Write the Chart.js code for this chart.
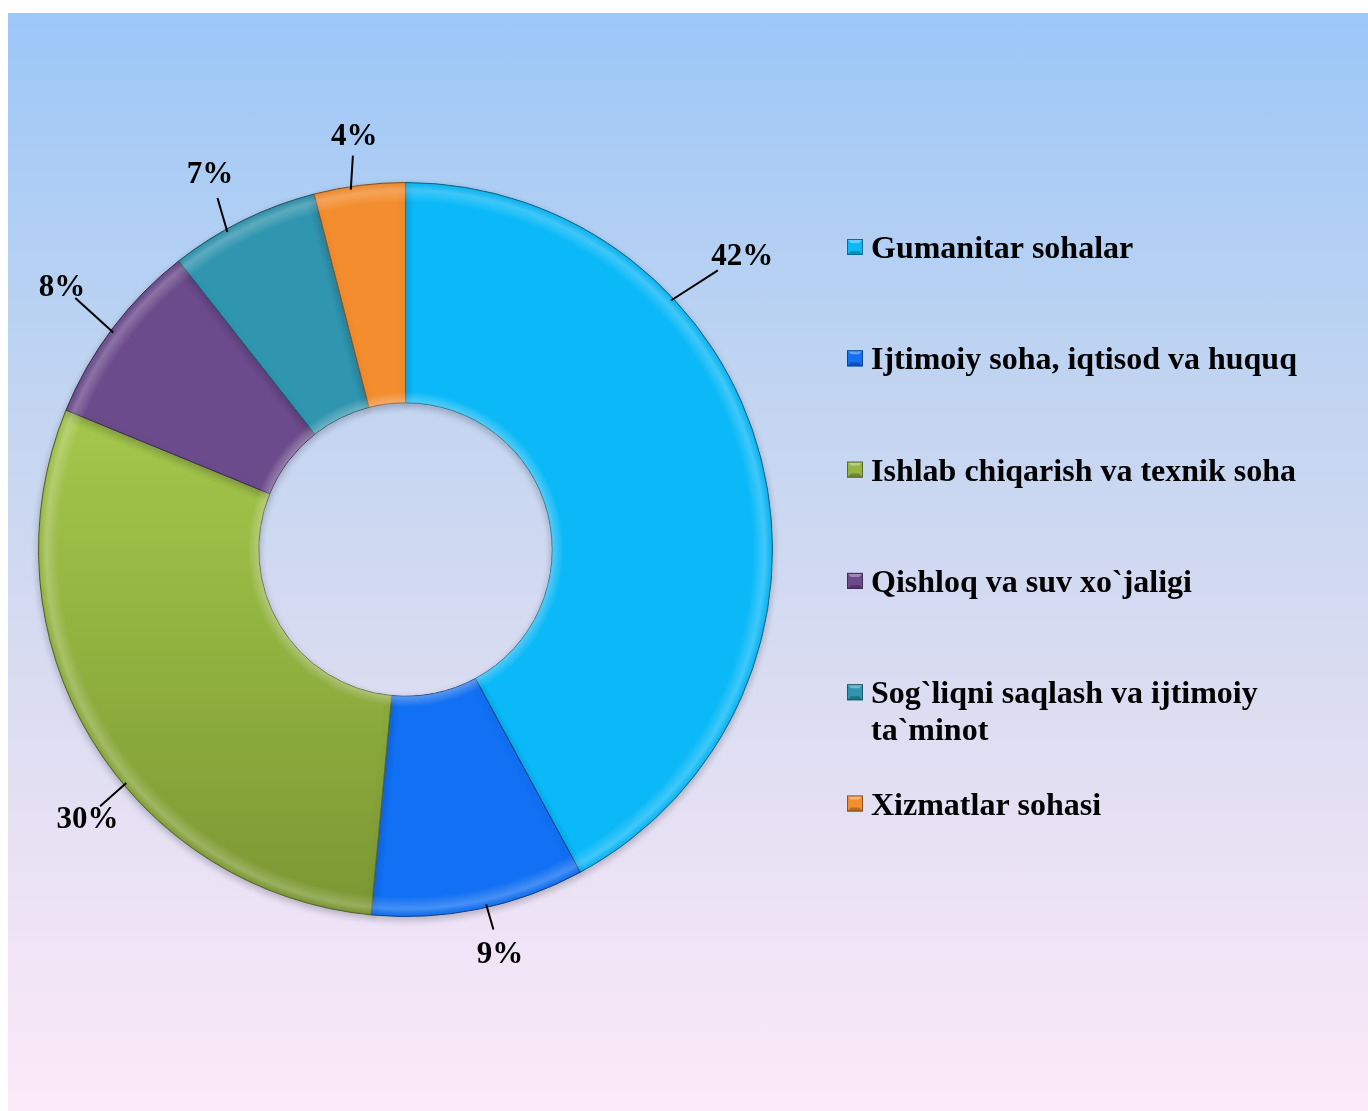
<!DOCTYPE html>
<html><head><meta charset="utf-8">
<script src="https://cdn.jsdelivr.net/npm/chart.js@4.4.1/dist/chart.umd.min.js"></script>
<style>
html,body{margin:0;padding:0;background:#fff;width:1368px;height:1111px;overflow:hidden}
#panel{position:absolute;left:8px;top:13px;width:1360px;height:1098px;background:linear-gradient(to bottom,#9cc7f7 0%,#c2d5f1 35%,#d9dcf1 60%,#f0e4f6 85%,#fce9f8 100%)}
canvas{display:block}
</style></head><body>
<div id="panel"><canvas id="c" width="1360" height="1098"></canvas></div>
<script>
const categories = ["Gumanitar sohalar","Ijtimoiy soha, iqtisod va huquq","Ishlab chiqarish va texnik soha","Qishloq va suv xo`jaligi","Sog`liqni saqlash va ijtimoiy ta`minot","Xizmatlar sohasi"];
const legendLines = [["Gumanitar sohalar"],["Ijtimoiy soha, iqtisod va huquq"],["Ishlab chiqarish va texnik soha"],["Qishloq va suv xo`jaligi"],["Sog`liqni saqlash va ijtimoiy","ta`minot"],["Xizmatlar sohasi"]];
const values = [42.1, 9.4, 29.7, 8.2, 6.6, 4.0];
const percentLabels = ["42%","9%","30%","8%","7%","4%"];
const colors = ["#0BB9F8","#1170F3","#93B440","#6C4B8C","#3095AF","#F38D2E"];

const FONT = '"Liberation Serif","Times New Roman",serif';

function shade(hex, p){
  const n=parseInt(hex.slice(1),16);
  let r=(n>>16)&255,g=(n>>8)&255,b=n&255;
  const f=v=>Math.round(p>=0? v+(255-v)*p : v*(1+p));
  return `rgb(${f(r)},${f(g)},${f(b)})`;
}

const shadowPlugin = {
  id:'shadow',
  beforeDatasetsDraw(chart){const c=chart.ctx;c.save();c.shadowColor='rgba(40,40,60,0.28)';c.shadowBlur=7;c.shadowOffsetY=3;},
  afterDatasetsDraw(chart){
    const ctx=chart.ctx; ctx.restore();
    // bevel overlay following each arc element's geometry
    const meta=chart.getDatasetMeta(0);
    meta.data.forEach(arc=>{
      const p=arc.getProps(['x','y','startAngle','endAngle','innerRadius','outerRadius'],true);
      const R=p.outerRadius, r=p.innerRadius;
      const g=ctx.createRadialGradient(p.x,p.y,r,p.x,p.y,R);
      g.addColorStop(0,'rgba(255,255,255,0.30)');
      g.addColorStop(0.05,'rgba(255,255,255,0)');
      g.addColorStop(0.91,'rgba(255,255,255,0)');
      g.addColorStop(0.965,'rgba(255,255,255,0.22)');
      g.addColorStop(0.99,'rgba(255,255,255,0.04)');
      g.addColorStop(1,'rgba(0,0,0,0.2)');
      ctx.save();
      ctx.beginPath();
      ctx.arc(p.x,p.y,R,p.startAngle,p.endAngle);
      ctx.arc(p.x,p.y,r,p.endAngle,p.startAngle,true);
      ctx.closePath();
      ctx.fillStyle=g; ctx.fill();
      ctx.restore();
    });
  }
};

const labelPlugin = {
  id:'pctLabels',
  afterDraw(chart){
    const ctx=chart.ctx; const meta=chart.getDatasetMeta(0);
    const lineFracs=[0.309,0.462,0.418,0.484,0.373,0.40];
    const labelFracs=[0.322,0.45,0.416,0.514,0.453,0.51];
    const gaps=[80.5,47,49,66,58,51];
    const ends=[29,24,17,18,27,21];
    ctx.save();
    ctx.font='bold 31px '+FONT; ctx.fillStyle='#000'; ctx.strokeStyle='#000'; ctx.lineWidth=2;
    ctx.textAlign='center'; ctx.textBaseline='alphabetic';
    meta.data.forEach((arc,i)=>{
      const p=arc.getProps(['x','y','startAngle','endAngle','outerRadius'],true);
      const a=p.startAngle+(p.endAngle-p.startAngle)*lineFracs[i];
      const b=p.startAngle+(p.endAngle-p.startAngle)*labelFracs[i];
      const sx=p.x+Math.cos(a)*(p.outerRadius-3), sy=p.y+Math.sin(a)*(p.outerRadius-3);
      const lx=p.x+Math.cos(b)*(p.outerRadius+gaps[i]), ly=p.y+Math.sin(b)*(p.outerRadius+gaps[i]);
      const dx=sx-lx, dy=sy-ly, d=Math.hypot(dx,dy);
      const ex=lx+dx/d*ends[i], ey=ly+dy/d*ends[i];
      ctx.beginPath(); ctx.moveTo(sx,sy); ctx.lineTo(ex,ey); ctx.stroke();
      ctx.fillText(percentLabels[i], lx, ly+10.5);
    });
    ctx.restore();
  }
};

const legendPlugin = {
  id:'sideLegend',
  afterDraw(chart){
    const ctx=chart.ctx;
    ctx.save();
    ctx.font='bold 32px '+FONT; ctx.fillStyle='#000'; ctx.textBaseline='alphabetic'; ctx.textAlign='left';
    legendLines.forEach((lines,i)=>{
      const cy=234+i*111.3;
      const mx=839, my=cy-8, s=16, col=colors[i];
      ctx.fillStyle=col; ctx.fillRect(mx,my,s,s);
      ctx.fillStyle=shade(col,0.35);
      ctx.beginPath(); ctx.moveTo(mx,my); ctx.lineTo(mx+s,my); ctx.lineTo(mx+s-4,my+4); ctx.lineTo(mx+4,my+4); ctx.closePath(); ctx.fill();
      ctx.fillStyle=shade(col,-0.25);
      ctx.beginPath(); ctx.moveTo(mx,my+s); ctx.lineTo(mx+s,my+s); ctx.lineTo(mx+s-4,my+s-4); ctx.lineTo(mx+4,my+s-4); ctx.closePath(); ctx.fill();
      ctx.strokeStyle=shade(col,-0.4); ctx.lineWidth=1; ctx.strokeRect(mx+0.5,my+0.5,s-1,s-1);
      ctx.fillStyle='#000';
      lines.forEach((t,j)=>ctx.fillText(t, 863, cy+11+j*37));
    });
    ctx.restore();
  }
};

new Chart(document.getElementById('c'),{
  type:'doughnut',
  data:{labels:categories,datasets:[{
    data:values,
    backgroundColor:(c)=>{
      const chart=c.chart, base=colors[c.dataIndex], area=chart.chartArea;
      if(!area || c.dataIndex!==2) return base;
      const g=chart.ctx.createLinearGradient(0,area.top+230,0,area.bottom);
      g.addColorStop(0,'#A5C74B');
      g.addColorStop(0.5,'#90B03F');
      g.addColorStop(1,'#7B9733');
      return g;
    },
    borderColor:colors.map(c=>shade(c,-0.4)),
    borderWidth:1
  }]},
  options:{
    responsive:false, devicePixelRatio:1, animation:false,
    cutout:'40%',
    layout:{padding:{left:30,top:169,right:595,bottom:194}},
    plugins:{legend:{display:false},tooltip:{enabled:false}}
  },
  plugins:[shadowPlugin,labelPlugin,legendPlugin]
});
</script>
</body></html>
